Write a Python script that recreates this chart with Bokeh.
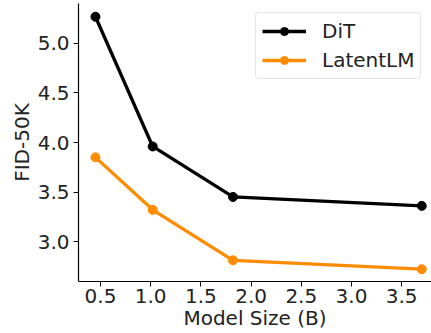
from bokeh.plotting import figure
from bokeh.models import Range1d, FixedTicker, Legend, LegendItem, CustomJSTickFormatter
from bokeh.embed import file_html
from bokeh.resources import INLINE

model_size = [0.45, 1.02, 1.82, 3.70]
dit_fid = [5.27, 3.96, 3.45, 3.36]
latentlm_fid = [3.85, 3.32, 2.81, 2.72]
x_ticks = [0.5, 1.0, 1.5, 2.0, 2.5, 3.0, 3.5]
y_ticks = [3.0, 3.5, 4.0, 4.5, 5.0]

FONT = "DejaVu Sans"
FS = "20px"

p = figure(width=431, height=333, output_backend="svg", toolbar_location=None,
           x_range=Range1d(0.281, 3.797), y_range=Range1d(2.596, 5.404),
           min_border_left=78, min_border_right=0, min_border_top=3, min_border_bottom=52)
p.outline_line_color = None
p.xgrid.visible = False
p.ygrid.visible = False
p.background_fill_color = "white"
p.border_fill_color = "white"

dit_line = p.line(model_size, dit_fid, line_color="black", line_width=3.3)
dit_pts = p.scatter(model_size, dit_fid, size=9, fill_color="black", line_color="black")
lat_line = p.line(model_size, latentlm_fid, line_color="#FF8C00", line_width=3.3)
lat_pts = p.scatter(model_size, latentlm_fid, size=9, fill_color="#FF8C00", line_color="#FF8C00")

fmt = CustomJSTickFormatter(code="return tick.toFixed(1);")
for ax in (p.xaxis[0], p.yaxis[0]):
    ax.axis_line_color = "black"
    ax.axis_line_width = 1.2
    ax.major_tick_line_color = "black"
    ax.major_tick_out = 5
    ax.major_tick_in = 0
    ax.minor_tick_line_color = None
    ax.major_label_text_font = FONT
    ax.major_label_text_font_size = FS
    ax.major_label_text_color = "#222222"
    ax.axis_label_text_font = FONT
    ax.axis_label_text_font_size = FS
    ax.axis_label_text_font_style = "normal"
    ax.axis_label_text_color = "#222222"
    ax.formatter = fmt

p.xaxis[0].ticker = FixedTicker(ticks=x_ticks)
p.yaxis[0].ticker = FixedTicker(ticks=y_ticks)
p.xaxis[0].axis_label = "Model Size (B)"
p.yaxis[0].axis_label = "FID-50K"
p.xaxis[0].major_label_standoff = 2
p.xaxis[0].axis_label_standoff = 0
p.yaxis[0].major_label_standoff = 4
p.yaxis[0].axis_label_standoff = 1

legend = Legend(items=[
    LegendItem(label="DiT", renderers=[dit_line, dit_pts]),
    LegendItem(label="LatentLM", renderers=[lat_line, lat_pts]),
], location=(177, 202))
legend.label_text_font = FONT
legend.label_text_font_size = FS
legend.label_text_color = "#222222"
legend.glyph_width = 44
legend.glyph_height = 20
legend.label_height = 20
legend.spacing = 5
legend.padding = 6
legend.margin = 0
legend.label_standoff = 16
legend.border_line_color = "#cccccc"
legend.border_line_width = 1
legend.border_radius = 4
legend.background_fill_color = "white"
legend.background_fill_alpha = 0.8
p.add_layout(legend, "center")

open("out.html", "w").write(file_html(p, INLINE))
